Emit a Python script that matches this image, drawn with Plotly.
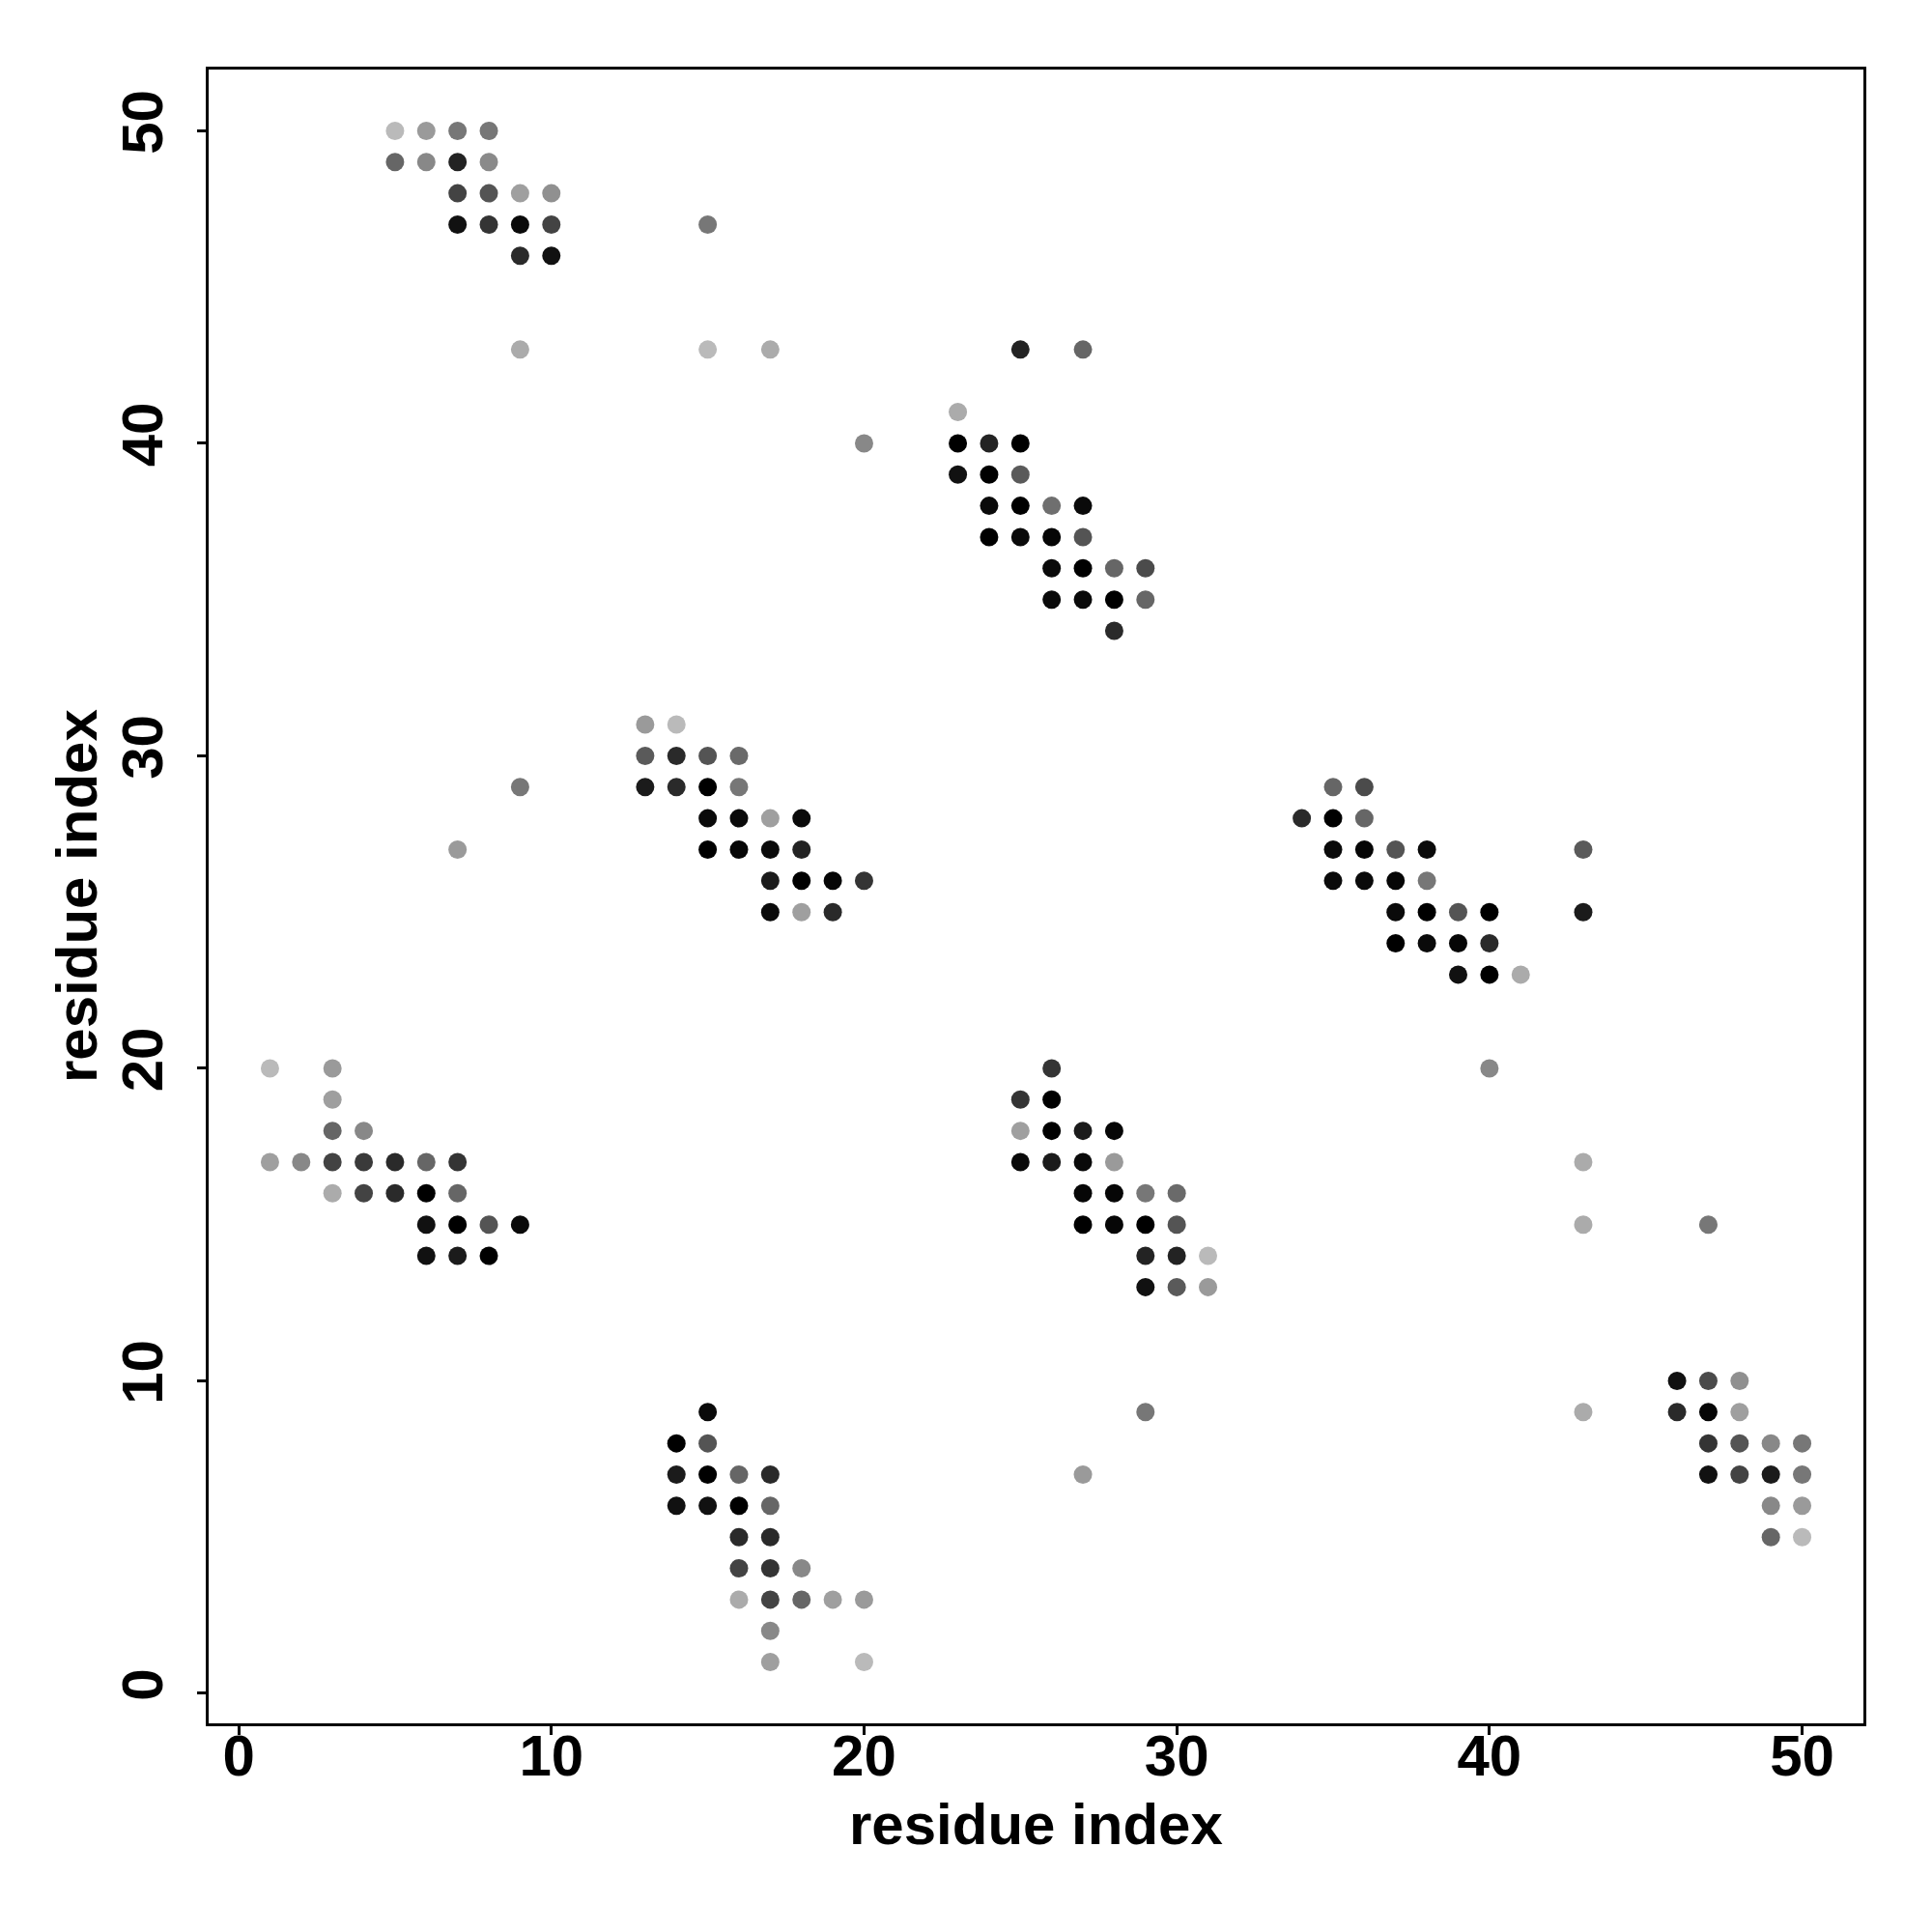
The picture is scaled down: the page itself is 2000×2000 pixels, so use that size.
import plotly.graph_objects as go

# residue pairs (i, j) and contact probability (darker = higher)
res_i = [
    5, 6, 7, 8, 5, 6, 7, 8, 7, 8, 9, 10, 7, 8, 9, 10, 9, 10, 9,
    15, 15, 17, 25, 27, 20,
    23, 23, 24, 25, 23, 24, 25, 24, 25, 26, 27, 24, 25, 26, 27,
    26, 27, 28, 29, 26, 27, 28, 29, 28,
    13, 14, 13, 14, 15, 16, 13, 14, 15, 16, 15, 16, 17, 18,
    15, 16, 17, 18, 17, 18, 19, 20, 17, 18, 19, 9, 7,
    1, 3, 3, 3, 4, 1, 2, 3, 4, 5, 6, 7, 3, 4, 5, 6, 7,
    6, 7, 8, 9, 6, 7, 8,
    26, 25, 26, 25, 26, 27, 28, 25, 26, 27, 28, 27, 28, 29, 30,
    27, 28, 29, 30, 29, 30, 31, 29, 30, 31, 29, 27,
    35, 36, 34, 35, 36, 35, 36, 37, 38, 35, 36, 37, 38,
    37, 38, 39, 40, 37, 38, 39, 40, 39, 40, 41, 43, 43, 40,
    43, 43, 47, 43,
    46, 47, 48, 46, 47, 48, 47, 48, 49, 50, 47, 48, 49, 50, 49, 50, 49, 50,
    15, 14, 15, 14, 15, 16, 17, 14, 15, 16, 17, 16, 17, 16, 17, 18,
    16, 17, 18, 19, 20, 17, 17, 20,
]
res_j = [
    50, 50, 50, 50, 49, 49, 49, 49, 48, 48, 48, 48, 47, 47, 47, 47, 46, 46, 43,
    47, 43, 43, 43, 43, 40,
    41, 40, 40, 40, 39, 39, 39, 38, 38, 38, 38, 37, 37, 37, 37,
    36, 36, 36, 36, 35, 35, 35, 35, 34,
    31, 31, 30, 30, 30, 30, 29, 29, 29, 29, 28, 28, 28, 28,
    27, 27, 27, 27, 26, 26, 26, 26, 25, 25, 25, 29, 27,
    20, 20, 19, 18, 18, 17, 17, 17, 17, 17, 17, 17, 16, 16, 16, 16, 16,
    15, 15, 15, 15, 14, 14, 14,
    20, 19, 19, 18, 18, 18, 18, 17, 17, 17, 17, 16, 16, 16, 16,
    15, 15, 15, 15, 14, 14, 14, 13, 13, 13, 9, 7,
    29, 29, 28, 28, 28, 27, 27, 27, 27, 26, 26, 26, 26,
    25, 25, 25, 25, 24, 24, 24, 24, 23, 23, 23, 27, 25, 20,
    17, 15, 15, 9,
    10, 10, 10, 9, 9, 9, 8, 8, 8, 8, 7, 7, 7, 7, 6, 6, 5, 5,
    9, 8, 8, 7, 7, 7, 7, 6, 6, 6, 6, 5, 5, 4, 4, 4,
    3, 3, 3, 3, 3, 2, 1, 1,
]
contact_p = [
    0.03, 0.20, 0.38, 0.38, 0.47, 0.29, 0.82, 0.28, 0.65, 0.56, 0.17, 0.25,
    0.91, 0.73, 0.95, 0.65, 0.78, 0.91, 0.11,
    0.38, 0.03, 0.11, 0.82, 0.47, 0.29,
    0.11, 1.00, 0.82, 1.00, 0.91, 1.00, 0.53, 0.95, 1.00, 0.42, 0.95,
    1.00, 0.95, 0.97, 0.56,
    0.95, 1.00, 0.47, 0.61, 0.95, 0.95, 1.00, 0.47, 0.78,
    0.20, 0.03, 0.53, 0.78, 0.56, 0.45, 0.86, 0.78, 1.00, 0.38,
    0.95, 0.95, 0.17, 0.95,
    1.00, 0.97, 0.95, 0.82, 0.86, 1.00, 0.97, 0.73, 0.95, 0.17, 0.78, 0.38, 0.20,
    0.03, 0.20, 0.17, 0.47, 0.29, 0.17, 0.29, 0.65, 0.70, 0.78, 0.47, 0.73,
    0.11, 0.65, 0.78, 1.00, 0.47,
    0.91, 1.00, 0.56, 0.95, 0.91, 0.86, 1.00,
    0.73, 0.73, 1.00, 0.17, 1.00, 0.86, 0.97, 0.95, 0.86, 0.95, 0.20,
    0.97, 0.97, 0.38, 0.45,
    1.00, 0.97, 1.00, 0.56, 0.82, 0.82, 0.03, 0.91, 0.53, 0.20, 0.38, 0.20,
    0.47, 0.61, 0.78, 1.00, 0.47, 0.95, 0.97, 0.56, 0.95, 0.95, 0.95, 0.97, 0.38,
    0.95, 1.00, 0.56, 1.00, 1.00, 0.95, 0.97, 0.78, 0.91, 1.00, 0.11,
    0.53, 0.86, 0.29,
    0.11, 0.11, 0.38, 0.11,
    0.91, 0.61, 0.25, 0.78, 0.97, 0.17, 0.73, 0.56, 0.29, 0.38,
    0.91, 0.65, 0.86, 0.38, 0.29, 0.20, 0.47, 0.03,
    0.95, 1.00, 0.56, 0.86, 1.00, 0.47, 0.78, 0.91, 0.91, 1.00, 0.47,
    0.78, 0.78, 0.65, 0.73, 0.29,
    0.11, 0.65, 0.47, 0.17, 0.20, 0.29, 0.17, 0.03,
]
tick_vals = [0, 10, 20, 30, 40, 50]
axis_title = "residue index"

font = dict(family="Liberation Sans, Arial, sans-serif", size=60,
            color="black", weight="bold")

fig = go.Figure(go.Scatter(
    x=res_i, y=res_j, mode="markers", showlegend=False,
    marker=dict(size=19, color=contact_p, cmin=0, cmax=1,
                colorscale=[[0, "rgb(192,192,192)"], [1, "rgb(0,0,0)"]],
                line=dict(width=0)),
))

axis_common = dict(
    tickvals=tick_vals, showline=True, mirror=True, linecolor="black",
    linewidth=3, ticks="outside", ticklen=9, tickwidth=3, tickcolor="black",
    showgrid=False, zeroline=False, tickfont=font, automargin=False,
)
fig.update_xaxes(range=[-0.96, 51.96], ticklabelstandoff=-30, **axis_common)
fig.update_yaxes(range=[-0.96, 51.96], tickangle=-90, ticklabelstandoff=12,
                 **axis_common)
fig.update_layout(
    template="none", width=2000, height=2000,
    margin=dict(l=208, r=79, t=64, b=224),
    plot_bgcolor="white", paper_bgcolor="white", font=font,
    annotations=[
        dict(text=axis_title, xref="paper", yref="paper", x=0.5, y=0,
             xanchor="center", yanchor="middle", yshift=-104,
             showarrow=False, font=font),
        dict(text=axis_title, xref="paper", yref="paper", x=0, y=0.5,
             xanchor="center", yanchor="middle", xshift=-137, textangle=-90,
             showarrow=False, font=font),
    ],
)
fig.write_html("out.html")
